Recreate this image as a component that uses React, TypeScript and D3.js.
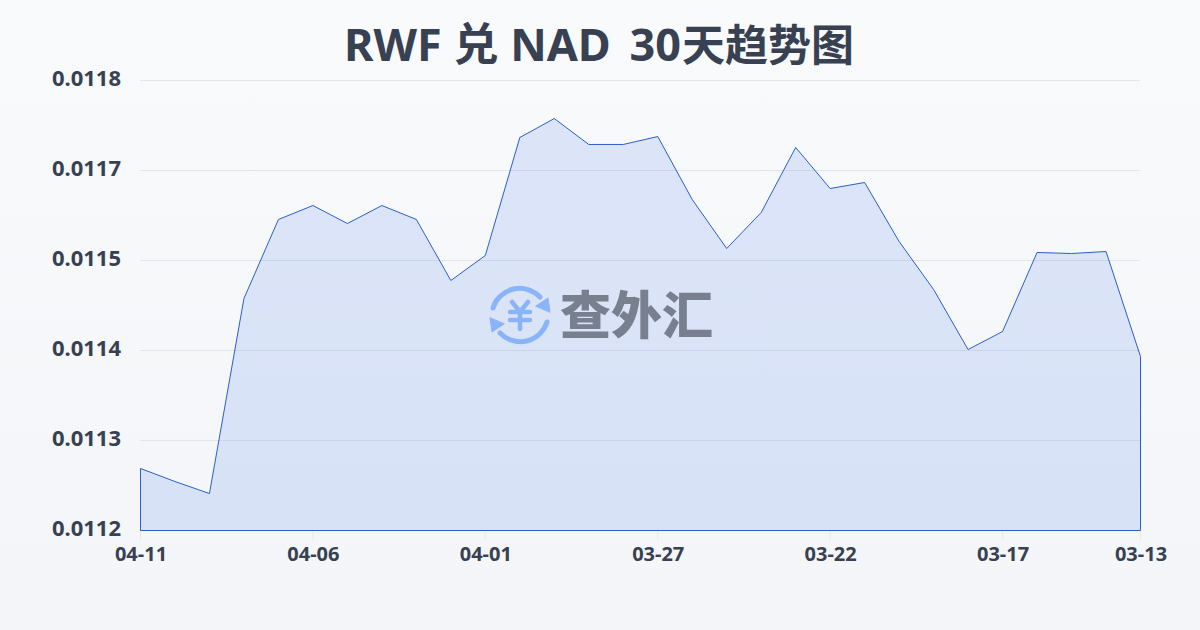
import React from "react";
import * as d3 from "d3";

const dates = ["04-11","04-10","04-09","04-08","04-07","04-06","04-05","04-04","04-03","04-02","04-01","03-31","03-30","03-29","03-28","03-27","03-26","03-25","03-24","03-23","03-22","03-21","03-20","03-19","03-18","03-17","03-16","03-15","03-14","03-13"];
const rates = [0.0112827,0.0112653,0.0112493,0.0115093,0.0116147,0.0116333,0.0116093,0.0116333,0.0116147,0.0115333,0.0115667,0.011724,0.0117493,0.0117147,0.0117147,0.0117253,0.0116413,0.011576,0.011624,0.0117107,0.011656,0.011664,0.0115853,0.0115213,0.0114413,0.0114653,0.0115707,0.0115693,0.011572,0.011432];
const yTickValues = [0.0112,0.01132,0.01144,0.01156,0.01168,0.0118];
const yTickLabels = ["0.0112","0.0113","0.0114","0.0115","0.0117","0.0118"];
const xTickDates = ["04-11","04-06","04-01","03-27","03-22","03-17","03-13"];
const titlePair = "RWF 兑 NAD";
const titleDays = "30";
const titleTail = "天趋势图";

const W = 1200, H = 630;
const font = "'Noto Sans','Noto Sans CJK SC',sans-serif";

export default function App() {
  const x = d3.scalePoint<string>().domain(dates).range([140.5, 1140.5]);
  const y = d3.scaleLinear().domain([0.0112, 0.0118]).range([530.5, 80.5]);
  const pts = dates.map((d, i) => [x(d)!, y(rates[i])] as [number, number]);
  const line = d3.line().curve(d3.curveLinear)(pts)!;
  const area = d3.area<[number, number]>().x(p => p[0]).y0(y(0.0112)).y1(p => p[1]).curve(d3.curveLinear)(pts)!;
  return (
    <svg width={W} height={H} viewBox={`0 0 ${W} ${H}`} style={{ position: "absolute", left: 0, top: 0, display: "block" }}>
      <defs>
        <linearGradient id="bg" x1="0" y1="0" x2="0" y2="1">
          <stop offset="0" stopColor="#f9fafc" />
          <stop offset="1" stopColor="#f3f5f8" />
        </linearGradient>
      </defs>
      <rect width={W} height={H} fill="url(#bg)" />
      <text x={344} y={61} fontFamily={font} fontWeight={700} fontSize={45} fill="#374151" xmlSpace="preserve">
        {titlePair} <tspan dx={7}>{titleDays}</tspan><tspan dx={1} fontSize={43}>{titleTail}</tspan>
      </text>
      {yTickValues.map((v, i) => (
        <g key={v}>
          <line x1={140} x2={1140} y1={y(v)} y2={y(v)} stroke="#e3e5ea" strokeWidth={1} />
          <text x={121} y={y(v) + 5.5} textAnchor="end" fontFamily={font} fontWeight={700} fontSize={22} fill="#374151">{yTickLabels[i]}</text>
        </g>
      ))}
      <path d={area} fill="#2563eb" fillOpacity={0.135} />
      <path d={`${line}V${y(0.0112)}H${x(dates[0])}Z`} fill="none" stroke="#2a5fc9" strokeWidth={1} />
      {xTickDates.map(d => (
        <g key={d}>
          <line x1={x(d)} x2={x(d)} y1={531} y2={540} stroke="#e8e9ec" strokeWidth={1} />
          <text x={x(d)! + 0.5} y={561} textAnchor="middle" fontFamily={font} fontWeight={700} fontSize={20} fill="#374151">{d}</text>
        </g>
      ))}
      <g transform="translate(520 315)" fill="none" stroke="#8ab4f8" strokeWidth={5} strokeLinecap="round">
        <path d="M-27,-7 A28,28 0 0 1 20,-18" />
        <path d="M27,7 A28,28 0 0 1 -20,18" />
        <path d="M30,-3 L28,-17 L16,-9 Z" fill="#8ab4f8" stroke="#8ab4f8" strokeWidth={1} strokeLinejoin="round" />
        <path d="M-30,3 L-28,17 L-16,9 Z" fill="#8ab4f8" stroke="#8ab4f8" strokeWidth={1} strokeLinejoin="round" />
        <path d="M-8,-13 L0,-3 L8,-13 M-10,-3 H10 M-10,5 H10 M0,-3 V14" strokeWidth={4.5} />
      </g>
      <text x={560} y={334} fontFamily="'Noto Sans CJK SC',sans-serif" fontWeight={900} fontSize={51} fill="#78808f">查外汇</text>
    </svg>
  );
}
